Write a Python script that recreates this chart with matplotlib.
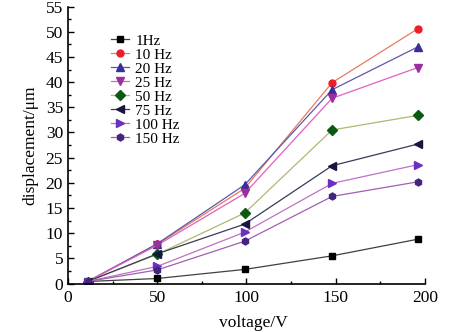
import matplotlib
matplotlib.use("Agg")
import matplotlib.pyplot as plt
from matplotlib.ticker import MultipleLocator

plt.rcParams['font.family'] = ['Liberation Serif', 'DejaVu Serif']
plt.rcParams['mathtext.fontset'] = 'stix'

voltage = [11, 50, 99, 148, 196]

labels = ["1Hz", "10 Hz", "20 Hz", "25 Hz", "50 Hz", "75 Hz", "100 Hz", "150 Hz"]
d_1hz = [0.4, 1.0, 2.8, 5.5, 8.8]
d_10hz = [0.4, 7.8, 18.9, 39.9, 50.6]
d_20hz = [0.4, 7.9, 19.6, 38.5, 47.0]
d_25hz = [0.4, 7.6, 17.9, 36.8, 42.9]
d_50hz = [0.4, 5.8, 14.0, 30.5, 33.4]
d_75hz = [0.4, 5.9, 11.8, 23.4, 27.7]
d_100hz = [0.4, 3.4, 10.2, 19.9, 23.6]
d_150hz = [0.4, 2.7, 8.4, 17.3, 20.2]
series = [d_1hz, d_10hz, d_20hz, d_25hz, d_50hz, d_75hz, d_100hz, d_150hz]

markers = ["s", "o", "^", "v", "D", "<", ">", "h"]
marker_colors = ["#000000", "#e8202a", "#3a2f9a", "#9a2fa0", "#0a5a14",
                 "#16163e", "#6a30c0", "#44247e"]
line_colors = ["#404040", "#e87a60", "#5a5aa8", "#e060c0", "#b0b870",
               "#3a3a5a", "#c070c8", "#a060b0"]

fig = plt.figure(figsize=(4.53, 3.32), dpi=100)
ax = fig.add_axes([0.150, 0.146, 0.788, 0.834])

for y, lab, m, mc, lc in zip(series, labels, markers, marker_colors, line_colors):
    ms = 5 if m in ("s", "o", "h", "D") else 6
    ax.plot(voltage, y, color=lc, lw=0.9, marker=m, ms=ms,
            markerfacecolor=mc, markeredgecolor=mc, label=lab)

ax.set_xlim(0, 200)
ax.set_ylim(0, 55)
ax.xaxis.set_major_locator(MultipleLocator(50))
ax.xaxis.set_minor_locator(MultipleLocator(25))
ax.yaxis.set_major_locator(MultipleLocator(5))
ax.yaxis.set_minor_locator(MultipleLocator(2.5))
ax.tick_params(which='both', direction='in', top=False, right=False,
               labelsize=12.5, width=1)
ax.tick_params(axis='x', which='major', pad=5)
ax.tick_params(which='major', length=4)
ax.tick_params(which='minor', length=2.5)
for s in ('top', 'right'):
    ax.spines[s].set_visible(False)
for s in ('left', 'bottom'):
    ax.spines[s].set_linewidth(1.2)

ax.set_xlabel("voltage/V", fontsize=12.5, labelpad=4)
ax.xaxis.set_label_coords(0.52, -0.115)
ax.set_ylabel("displacement/μm", fontsize=12.5, labelpad=5)

leg = ax.legend(loc='upper left', bbox_to_anchor=(0.09, 0.94), frameon=False,
                fontsize=11, handlelength=1.2, handletextpad=0.4,
                labelspacing=0.02, borderpad=0.2)

fig.savefig("out.png", dpi=100)
